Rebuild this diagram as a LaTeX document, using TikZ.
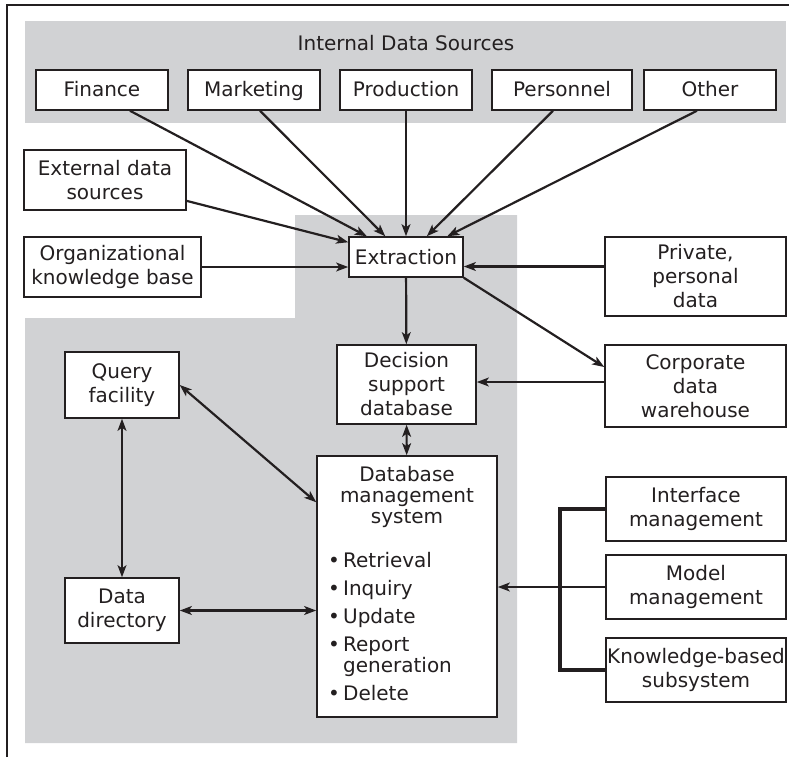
\documentclass[tikz,border=0pt]{standalone}
\usepackage{fontspec}
\setmainfont{DejaVu Sans}
\usetikzlibrary{arrows.meta}
\definecolor{panelgray}{RGB}{209,210,212}
\definecolor{ink}{RGB}{35,31,32}
\begin{document}
\begin{tikzpicture}[x=0.5pt,y=-0.5pt,color=ink,line width=1.1pt,
    font=\fontsize{10}{12}\selectfont,
    >={Stealth[length=6pt,width=4.4pt,inset=1.5pt]},
    box/.style={draw,fill=white,line width=0.75pt,align=center,inner sep=0.5pt},
    srcbox/.style={box,minimum width=66pt,minimum height=20pt,text height=7.3pt,text depth=0.6pt}]
  \useasboundingbox (0,0) rectangle (789,757);
  \draw[line width=0.75pt] (7,757) -- (7,5) -- (789,5);
  \fill[panelgray] (25,21) rectangle (786,123);
  \fill[panelgray] (295,215) -- (517,215) -- (517,743) -- (25,743) -- (25,318) -- (295,318) -- cycle;

  \node (ids) at (406,43) {Internal Data Sources};
  \node[srcbox] (fin) at (102,90) {Finance};
  \node[srcbox] (mkt) at (254,90) {Marketing};
  \node[srcbox] (prod) at (406,90) {Production};
  \node[srcbox,minimum width=70pt] (pers) at (562,90) {Personnel};
  \node[srcbox] (oth) at (710,90) {Other};

  \node[box,minimum width=81pt,minimum height=30pt] (exds) at (105,180) {External data\\sources};
  \node[box,minimum width=88.5pt,minimum height=30pt] (okb) at (112.5,267) {Organizational\\knowledge base};
  \node[box,minimum width=57pt,minimum height=20pt] (extr) at (406,257) {Extraction};
  \node[box,minimum width=90.5pt,minimum height=39.5pt] (priv) at (695.5,276.5) {Private,\\personal\\data};
  \node[box,minimum width=69.5pt,minimum height=39.5pt] (dsdb) at (406.5,384.5) {Decision\\support\\database};
  \node[box,minimum width=90.5pt,minimum height=41pt] (cdw) at (695.5,386) {Corporate\\data\\warehouse};
  \node[box,minimum width=57pt,minimum height=33pt] (qry) at (122,385) {Query\\facility};
  \node[box,minimum width=57pt,minimum height=32.5pt] (ddir) at (122,610.5) {Data\\directory};
  \node[box,minimum width=90pt,minimum height=130.5pt] (dbms) at (407,586.5) {\fontsize{10}{10}\selectfont
    \begin{tabular}{@{}l@{\,}l@{}}
      \multicolumn{2}{c}{Database}\\[0.5pt]
      \multicolumn{2}{c}{management}\\[0.5pt]
      \multicolumn{2}{c}{system}\\[11.5pt]
      \textbullet & Retrieval\\[3.5pt]
      \textbullet & Inquiry\\[3.5pt]
      \textbullet & Update\\[3.5pt]
      \textbullet & Report\\
                  & generation\\[3.5pt]
      \textbullet & Delete
    \end{tabular}};
  \node[box,minimum width=90pt,minimum height=32pt] (ifm) at (696,509) {Interface\\management};
  \node[box,minimum width=90pt,minimum height=32pt] (mdm) at (696,587) {Model\\management};
  \node[box,minimum width=90pt,minimum height=32pt] (kbs) at (696,670) {Knowledge-based\\subsystem};
  \coordinate (brk) at (560,587);

  \draw [->] ([xshift=14pt]fin.south) -- (extr);
  \draw [->] ([xshift=3pt]mkt.south) -- (extr);
  \draw [->] (prod) -- (extr);
  \draw [->] ([xshift=-4.5pt]pers.south) -- (extr);
  \draw [->] ([xshift=-6.5pt]oth.south) -- (extr);
  \draw [->] (exds) -- (extr);
  \draw [->] (okb.east) -- (okb.east -| extr.west);
  \draw [->] ([yshift=5pt]priv.west) -- ([yshift=5pt]priv.west -| extr.east);
  \draw [->] (extr) -- (dsdb);
  \draw [->] (extr.south east) -- ([yshift=9.5pt]cdw.west);
  \draw [->] ([yshift=2pt]cdw.west) -- ([yshift=2pt]cdw.west -| dsdb.east);
  \draw [<->] (dsdb) -- (dbms);
  \draw [<->] (qry.east) -- ([yshift=-23.5pt]dbms.north west);
  \draw [<->] (qry) -- (ddir);
  \draw [<->] (ddir.east) -- (ddir.east -| dbms.west);
  \draw [line width=1.6pt] (ifm.west) -- (ifm.west -| brk) -- (kbs.west -| brk) -- (kbs.west);
  \draw [->] (mdm.west) -- (mdm.west -| dbms.east);
\end{tikzpicture}
\end{document}
